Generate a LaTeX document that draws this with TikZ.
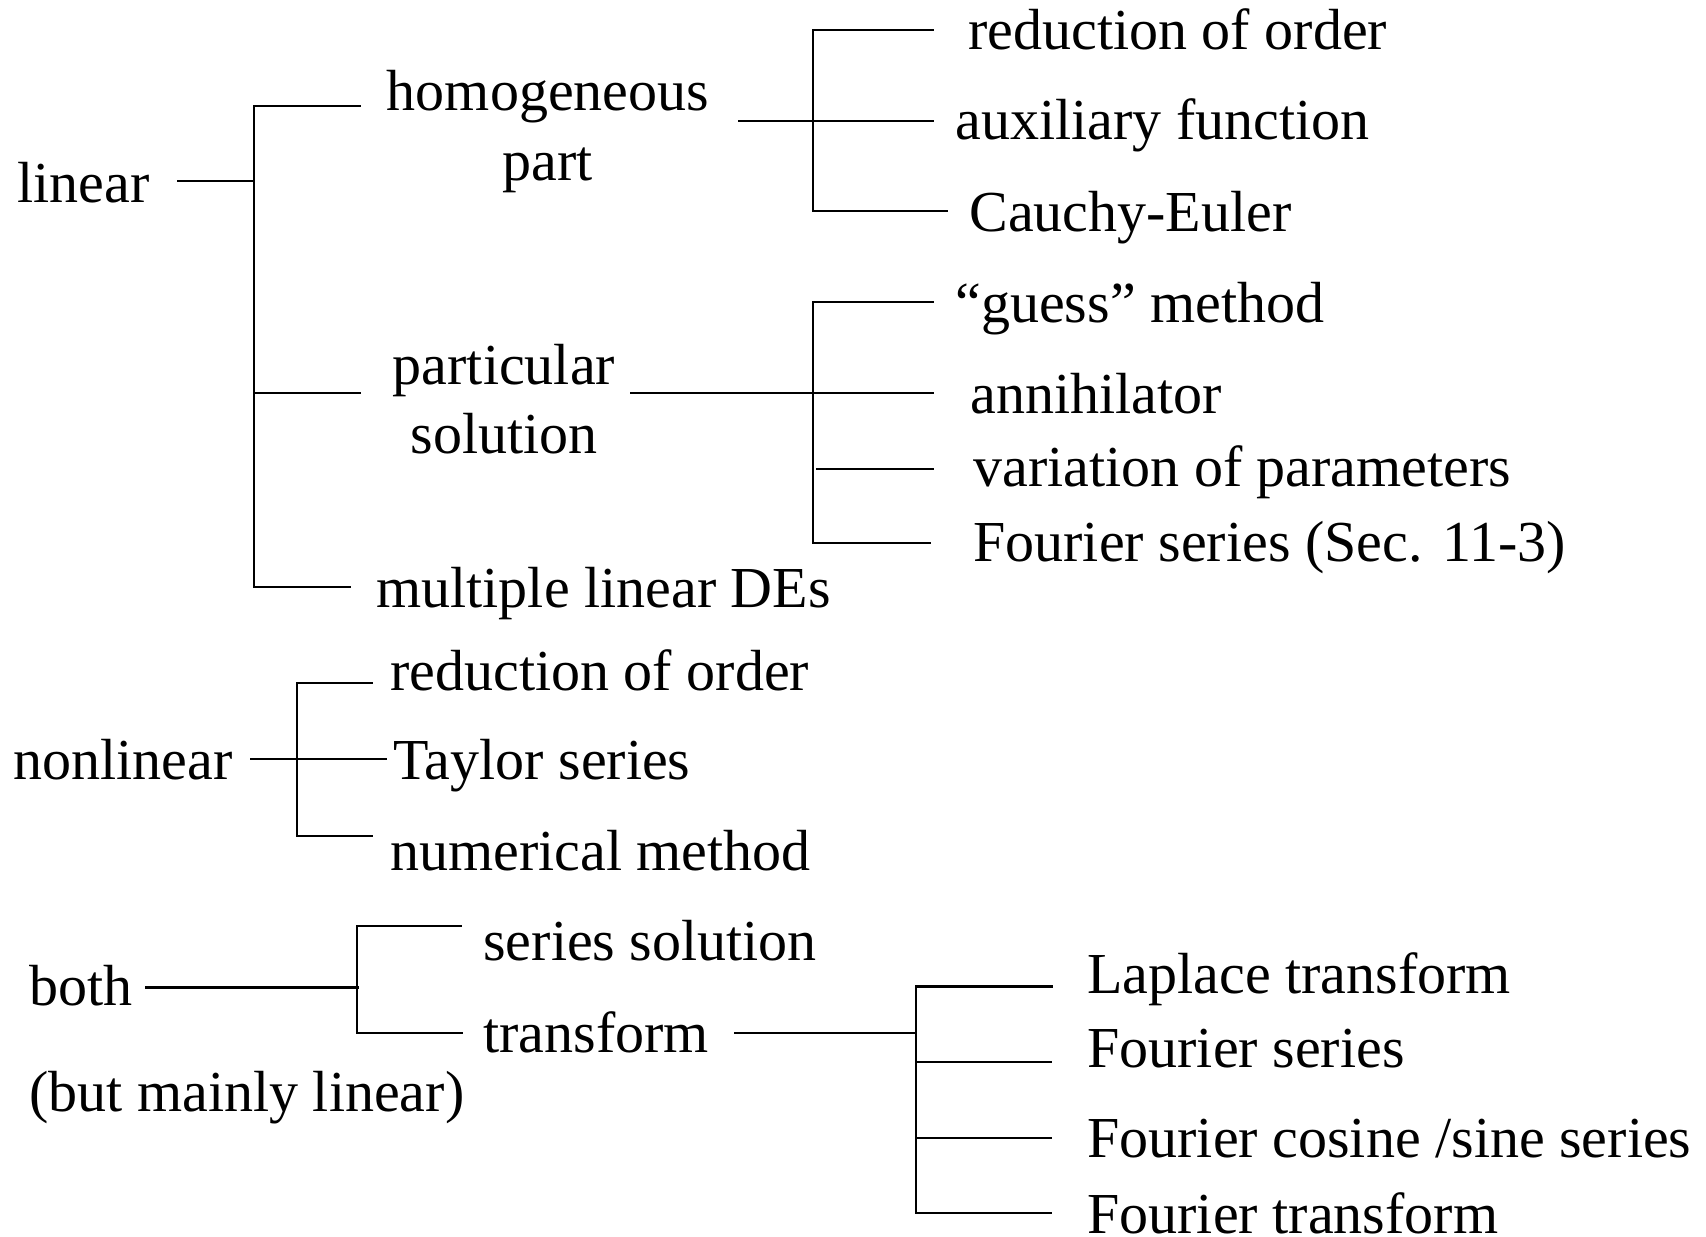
\documentclass[tikz,border=0pt]{standalone}
\usepackage{fontspec}
\setmainfont{Liberation Serif}
\begin{document}
\begin{tikzpicture}[x=0.5pt,y=-0.5pt,
  lbl/.style={inner sep=0pt,anchor=base west,font=\fontsize{29}{34}\selectfont},
  clbl/.style={inner sep=0pt,anchor=base,font=\fontsize{29}{34}\selectfont},
  br/.style={line width=1.2pt,line cap=rect}]
\useasboundingbox (0,0) rectangle (1706,1236);
% --- texts
\node[lbl] (linear) at (17,202) {linear};
\node[clbl] (homA) at (548,111) {homogeneous};
\node[clbl] (homB) at (548,180) {part};
\node[clbl] (parA) at (504,384) {particular};
\node[clbl] (parB) at (504,453) {solution};
\node[lbl] (multi) at (376,607) {multiple linear DEs};
\node[lbl] (red1) at (968,50) {reduction of order};
\node[lbl] (aux) at (955,140) {auxiliary function};
\node[lbl] (cauchy) at (969,231) {Cauchy-Euler};
\node[lbl] (guess) at (955,322) {“guess” method};
\node[lbl] (annih) at (970,413) {annihilator};
\node[lbl] (varp) at (973,486) {variation of parameters};
\node[lbl] (fsec) at (973,561) {Fourier series (Sec. 11-3)};
\node[lbl] (nonlin) at (13,779) {nonlinear};
\node[lbl] (red2) at (390,690) {reduction of order};
\node[lbl] (taylor) at (393,779) {Taylor series};
\node[lbl] (numer) at (390,870) {numerical method};
\node[lbl] (both) at (29,1005) {both};
\node[lbl] (mainly) at (29,1111) {(but mainly linear)};
\node[lbl] (sersol) at (483,960) {series solution};
\node[lbl] (transf) at (483,1052) {transform};
\node[lbl] (lap) at (1087,993) {Laplace transform};
\node[lbl] (fser) at (1087,1067) {Fourier series};
\node[lbl] (fcos) at (1087,1157) {Fourier cosine /sine series};
\node[lbl] (ftr) at (1087,1233) {Fourier transform};
% --- junction coordinates
\coordinate (jL) at (254,181);
\coordinate (jH) at (813,121);
\coordinate (jP) at (813,393);
\coordinate (jN) at (297,759);
\coordinate (jB) at (357,987);
\coordinate (jT) at (916,1033);
% --- linear
\draw[br] (178,181) -- (jL);
\draw[br] (254,106) -- (254,587);
\draw[br] (254,106) -- (360,106);
\draw[br] (254,393) -- (360,393);
\draw[br] (254,587) -- (350,587);
% homogeneous
\draw[br] (739,121) -- (jH) -- (933,121);
\draw[br] (813,30) -- (813,211);
\draw[br] (813,30) -- (933,30);
\draw[br] (813,211) -- (947,211);
% particular
\draw[br] (631,393) -- (jP) -- (933,393);
\draw[br] (813,302) -- (813,543);
\draw[br] (813,302) -- (933,302);
\draw[br] (817,469) -- (933,469);
\draw[br] (813,543) -- (930,543);
% nonlinear
\draw[br] (251,759) -- (jN) -- (386,759);
\draw[br] (297,683) -- (297,836);
\draw[br] (297,683) -- (372,683);
\draw[br] (297,836) -- (372,836);
% both
\draw[br,line width=1.5pt] (146,987) -- (jB);
\draw[br] (357,926) -- (357,1033);
\draw[br] (357,926) -- (461,926);
\draw[br] (357,1033) -- (462,1033);
% transform
\draw[br] (735,1033) -- (jT);
\draw[br] (916,986) -- (916,1213);
\draw[br,line width=1.5pt] (916,986) -- (1051,986);
\draw[br] (916,1062) -- (1051,1062);
\draw[br] (916,1138) -- (1051,1138);
\draw[br] (916,1213) -- (1051,1213);
\end{tikzpicture}
\end{document}
